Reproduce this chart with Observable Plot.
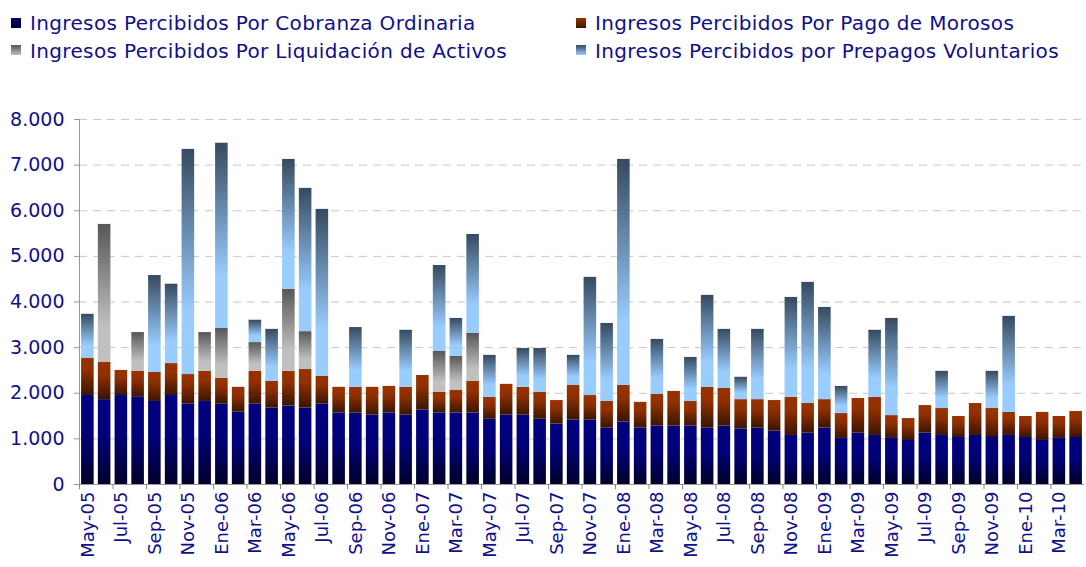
<!DOCTYPE html>
<html>
<head>
<meta charset="utf-8">
<script src="https://cdn.jsdelivr.net/npm/d3@7"></script>
<script src="https://cdn.jsdelivr.net/npm/@observablehq/plot@0.6"></script>
<style>
  body { margin: 0; background: #fff; width: 1086px; height: 567px; overflow: hidden; font-family: "DejaVu Sans", sans-serif; }
  #legend { position: relative; height: 80px; width: 1086px; }
  .item { position: absolute; font-size: 20px; line-height: 20px; letter-spacing: 0.35px; color: #10108a; white-space: nowrap; }
  .sw { position: absolute; width: 10px; height: 10px; }
</style>
</head>
<body>
<div id="legend"></div>
<div id="chart"></div>
<script>
const months = ["May-05","Jun-05","Jul-05","Ago-05","Sep-05","Oct-05","Nov-05","Dic-05","Ene-06","Feb-06","Mar-06","Abr-06","May-06","Jun-06","Jul-06","Ago-06","Sep-06","Oct-06","Nov-06","Dic-06","Ene-07","Feb-07","Mar-07","Abr-07","May-07","Jun-07","Jul-07","Ago-07","Sep-07","Oct-07","Nov-07","Dic-07","Ene-08","Feb-08","Mar-08","Abr-08","May-08","Jun-08","Jul-08","Ago-08","Sep-08","Oct-08","Nov-08","Dic-08","Ene-09","Feb-09","Mar-09","Abr-09","May-09","Jun-09","Jul-09","Ago-09","Sep-09","Oct-09","Nov-09","Dic-09","Ene-10","Feb-10","Mar-10","Abr-10"];

const seriesNames = [
  "Ingresos Percibidos Por Cobranza Ordinaria",
  "Ingresos Percibidos Por Pago de Morosos",
  "Ingresos Percibidos Por Liquidación de Activos",
  "Ingresos Percibidos por Prepagos Voluntarios"
];

const cobranza = [1950,1860,1950,1910,1820,1950,1760,1820,1760,1585, 1760,1675,1720,1675,1760,1565,1565,1520,1565,1520, 1630,1565,1565,1565,1430,1520,1520,1430,1325,1410, 1410,1235,1370,1235,1280,1280,1280,1235,1280,1215, 1235,1170,1075,1125,1235,1010,1125,1075,1010,965, 1125,1075,1030,1075,1030,1075,1030,965,1010,1030];

const morosos = [820,815,550,570,640,700,650,660,565,545, 720,585,760,845,610,565,565,610,585,610, 760,455,495,695,480,675,610,590,515,760, 540,585,800,565,695,760,540,895,825,645, 625,670,835,650,625,545,760,835,500,480, 605,590,460,700,635,505,460,615,480,570];

const liquidacion = [0,3025,0,850,0,0,0,850,1095,0, 630,0,1800,830,0,0,0,0,0,0, 0,895,750,1050,0,0,0,0,0,0, 0,0,0,0,0,0,0,0,0,0, 0,0,0,0,0,0,0,0,0,0, 0,0,0,0,0,0,0,0,0,0];

const prepagos = [960,0,0,0,2120,1740,4935,0,4060,0, 490,1140,2845,3140,3660,0,1310,0,0,1250, 0,1885,830,2170,920,0,850,960,0,660, 2590,1710,4955,0,1205,0,965,2015,1295,490, 1540,0,2190,2655,2020,595,0,1470,2130,0, 0,815,0,0,815,2105,0,0,0,0];

const yTicks = [0,1000,2000,3000,4000,5000,6000,7000,8000];
const xTickLabels = months.filter((d, i) => i % 2 === 0);

// gradients (top -> bottom)
const gradients = [
  {id: "gCob", stops: [[0, "#000080"], [0.45, "#000078"], [1, "#00002a"]], css: "linear-gradient(#000080, #00002a)"},
  {id: "gMor", stops: [[0, "#993300"], [0.35, "#8f2f00"], [1, "#3a1400"]], css: "linear-gradient(#993300, #3a1400)"},
  {id: "gLiq", stops: [[0, "#575757"], [0.75, "#c0c0c0"], [1, "#c0c0c0"]], css: "linear-gradient(#575757, #c0c0c0)"},
  {id: "gPre", stops: [[0, "#364a5f"], [0.72, "#99ccff"], [1, "#99ccff"]], css: "linear-gradient(#364a5f, #99ccff)"}
];

const valuesBySeries = [cobranza, morosos, liquidacion, prepagos];
const table = [];
valuesBySeries.forEach((vals, s) => {
  vals.forEach((v, i) => table.push({month: months[i], series: seriesNames[s], value: v}));
});

// legend
const legend = document.getElementById("legend");
const legendPos = [
  {sx: 11, sy: 18, tx: 30, ty: 13},
  {sx: 576, sy: 18, tx: 595, ty: 13},
  {sx: 11, sy: 45, tx: 30, ty: 41},
  {sx: 576, sy: 45, tx: 595, ty: 41}
];
seriesNames.forEach((name, i) => {
  const p = legendPos[i];
  const sw = document.createElement("div");
  sw.className = "sw";
  sw.style.left = p.sx + "px"; sw.style.top = p.sy + "px";
  sw.style.background = gradients[i].css;
  legend.appendChild(sw);
  const t = document.createElement("div");
  t.className = "item";
  t.style.left = p.tx + "px"; t.style.top = p.ty + "px";
  t.textContent = name;
  legend.appendChild(t);
});

const width = 1086, marginLeft = 79, marginRight = 2;
const step = (width - marginLeft - marginRight) / months.length;
const fmt = d => d3.format(",")(d).replace(/,/g, ".");

const chart = Plot.plot({
  width,
  height: 487,
  marginTop: 39,
  marginBottom: 83,
  marginLeft,
  marginRight,
  style: {fontFamily: "DejaVu Sans, sans-serif", background: "white"},
  x: {type: "band", domain: months, paddingInner: 0.25, paddingOuter: 0.125},
  y: {domain: [0, 8000]},
  color: {domain: seriesNames, range: gradients.map(g => `url(#${g.id})`)},
  marks: [
    Plot.ruleY(yTicks.filter(d => d > 0), {stroke: "#c8c8c8", strokeDasharray: "8,6", strokeWidth: 1}),
    Plot.barY(table.filter(d => d.value > 0), Plot.stackY({x: "month", y: "value", fill: "series", order: seriesNames})),
    Plot.ruleY([0], {stroke: "#999"}),
    Plot.frame({anchor: "left", stroke: "#999"}),
    Plot.axisY(yTicks, {tickSize: 5, tickPadding: 10, stroke: "#999", fill: "#10108a", fontSize: 19, tickFormat: fmt, label: null}),
    Plot.axisX(xTickLabels, {tickSize: 5, dx: -step / 2, stroke: "#888", tickFormat: () => "", label: null}),
    Plot.axisX(xTickLabels, {tickSize: 0, tickPadding: 7, tickRotate: -90, fill: "#10108a", fontSize: 18, label: null})
  ]
});

const defs = d3.select(chart).insert("defs", ":first-child");
gradients.forEach(g => {
  const lg = defs.append("linearGradient").attr("id", g.id).attr("x1", 0).attr("y1", 0).attr("x2", 0).attr("y2", 1);
  g.stops.forEach(([o, c]) => lg.append("stop").attr("offset", o).attr("stop-color", c));
});

document.getElementById("chart").appendChild(chart);
</script>
</body>
</html>
